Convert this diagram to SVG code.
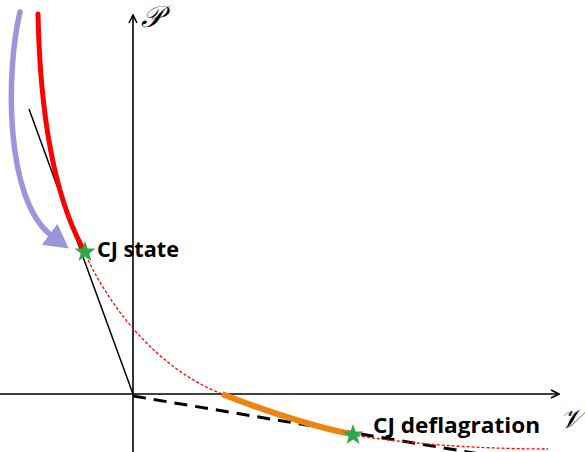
<svg xmlns="http://www.w3.org/2000/svg" width="585" height="452" viewBox="0 0 585 452">
<defs>
<style>
.axis{stroke:#000;stroke-width:1.6;fill:none}
.lbl{font-family:"Open Sans","Liberation Sans",sans-serif;font-weight:bold;font-size:22px;fill:#000}
.math{font-family:"DejaVu Serif","DejaVu Sans",serif;font-style:italic;font-size:30px;fill:#000}
.star{fill:#2ea84a}
</style>
<marker id="axArrow" markerUnits="userSpaceOnUse" viewBox="0 0 10 10" refX="9" refY="5" markerWidth="10" markerHeight="10" orient="auto">
<path d="M1,1 L9,5 L1,9" fill="none" stroke="#000" stroke-width="1.6"/>
</marker>
<marker id="purpleHead" markerUnits="userSpaceOnUse" viewBox="0 0 24 26" refX="3" refY="13" markerWidth="24" markerHeight="26" orient="auto">
<path d="M0,0 L24,13 L0,26 z" fill="#9b96da"/>
</marker>
<path id="starShape" d="M0,-11 L2.6,-3.6 L10.5,-3.4 L4.2,1.4 L6.5,8.9 L0,4.4 L-6.5,8.9 L-4.2,1.4 L-10.5,-3.4 L-2.6,-3.6 z"/>
</defs>
<rect width="585" height="452" fill="#fff"/>
<g id="axes">
<line class="axis" x1="133" y1="452" x2="133" y2="15" marker-end="url(#axArrow)"/>
<line class="axis" x1="0" y1="394" x2="559" y2="394" marker-end="url(#axArrow)"/>
<text class="math" x="141" y="27">𝒫</text>
<text class="math" x="560" y="428" style="font-size:27px">𝒱</text>
</g>
<g id="connectors">
<line x1="29" y1="109" x2="133" y2="394" stroke="#000" stroke-width="1.5"/>
<path d="M133,396 L480,454" stroke="#000" stroke-width="3" stroke-dasharray="13,8" fill="none"/>
<path d="M84,251 C110,310 160,370 222,394 C270,413 320,428 353,435 C420,446 500,449 548,449" stroke="#ff0000" stroke-width="1.3" stroke-dasharray="3,2" fill="none"/>
<path d="M38,14 C40,110 52,190 82,247" stroke="#ff0000" stroke-width="5" stroke-linecap="round" fill="none"/>
<path d="M222,394 C270,413 320,428 351,434" stroke="#ec8410" stroke-width="6" fill="none"/>
<path d="M20,12 C6,70 4,200 52,236" stroke="#9b96da" stroke-width="5.5" stroke-linecap="round" fill="none" marker-end="url(#purpleHead)"/>
</g>
<g id="cj-state">
<use href="#starShape" class="star" x="85" y="252"/>
<text class="lbl" x="97" y="257" textLength="82" lengthAdjust="spacingAndGlyphs">CJ state</text>
</g>
<g id="cj-deflagration">
<use href="#starShape" class="star" x="353" y="435"/>
<text class="lbl" x="373" y="433" textLength="167" lengthAdjust="spacingAndGlyphs">CJ deflagration</text>
</g>
</svg>
